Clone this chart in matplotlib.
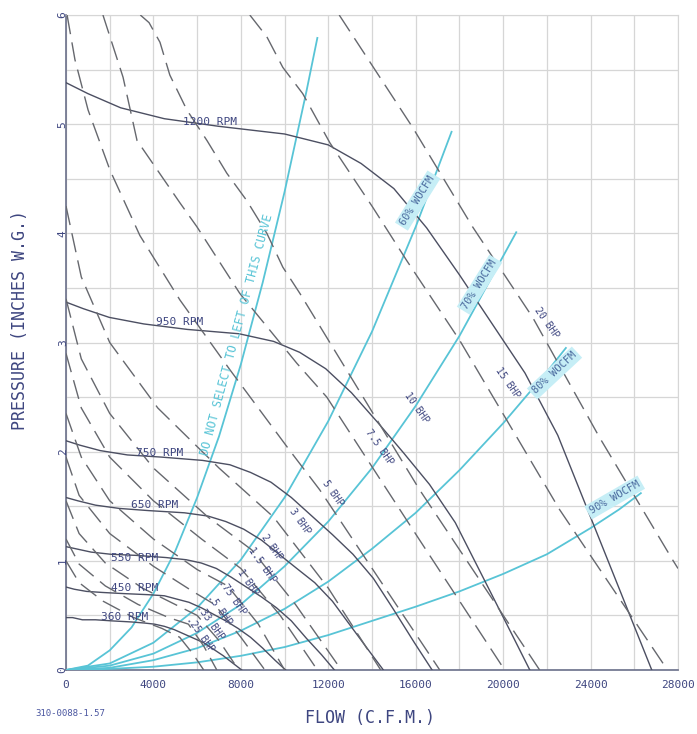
import matplotlib
matplotlib.use("Agg")
import matplotlib.pyplot as plt

# ---------------- data ----------------
rpm_labels = ["1200 RPM", "950 RPM", "750 RPM", "650 RPM", "550 RPM", "450 RPM", "360 RPM"]
rpm_q = [
    [0, 1000, 2500, 4500, 7000, 10000, 12000, 13500, 15000, 16500, 18000, 19500, 21000, 22500, 24000, 25500, 26800],
    [0, 790, 1980, 3560, 5540, 7920, 9500, 10690, 11880, 13060, 14250, 15440, 16630, 17810, 19000, 20190, 21220],
    [0, 625, 1560, 2810, 4380, 6250, 7500, 8440, 9380, 10310, 11250, 12190, 13130, 14060, 15000, 15940, 16750],
    [0, 540, 1350, 2440, 3790, 5420, 6500, 7310, 8130, 8940, 9750, 10560, 11380, 12190, 13000, 13810, 14520],
    [0, 460, 1150, 2060, 3210, 4580, 5500, 6190, 6880, 7560, 8250, 8940, 9630, 10310, 11000, 11690, 12280],
    [0, 375, 940, 1690, 2630, 3750, 4500, 5060, 5630, 6190, 6750, 7310, 7880, 8440, 9000, 9560, 10050],
    [0, 300, 750, 1350, 2100, 3000, 3600, 4050, 4500, 4950, 5400, 5850, 6300, 6750, 7200, 7650, 8040],
]
rpm_p = [
    [5.38, 5.28, 5.15, 5.05, 4.98, 4.91, 4.81, 4.64, 4.41, 4.05, 3.62, 3.17, 2.72, 2.15, 1.40, 0.65, 0],
    [3.37, 3.31, 3.23, 3.17, 3.12, 3.08, 3.01, 2.91, 2.76, 2.54, 2.27, 1.99, 1.70, 1.35, 0.88, 0.41, 0],
    [2.10, 2.06, 2.01, 1.97, 1.95, 1.92, 1.88, 1.81, 1.72, 1.58, 1.41, 1.24, 1.06, 0.84, 0.55, 0.25, 0],
    [1.58, 1.55, 1.51, 1.48, 1.46, 1.44, 1.41, 1.36, 1.29, 1.19, 1.06, 0.93, 0.80, 0.63, 0.41, 0.19, 0],
    [1.13, 1.11, 1.08, 1.06, 1.05, 1.03, 1.01, 0.98, 0.93, 0.85, 0.76, 0.67, 0.57, 0.45, 0.29, 0.14, 0],
    [0.76, 0.74, 0.72, 0.71, 0.70, 0.69, 0.68, 0.65, 0.62, 0.57, 0.51, 0.45, 0.38, 0.30, 0.20, 0.09, 0],
    [0.48, 0.48, 0.46, 0.46, 0.45, 0.44, 0.43, 0.42, 0.40, 0.37, 0.33, 0.29, 0.25, 0.19, 0.13, 0.06, 0],
]

bhp_labels = ["20 BHP", "15 BHP", "10 BHP", "7.5 BHP", "5 BHP", "3 BHP", "2 BHP",
              "1.5 BHP", "1 BHP", ".75 BHP", ".5 BHP", ".33 BHP", ".25 BHP"]
bhp_q = [
    [12500, 15860, 18600, 21350, 24410, 27750, 28000],
    [8410, 9190, 9920, 10830, 12070, 14030, 15590, 18010, 22580, 27520],
    [3400, 3800, 4300, 4750, 5530, 6450, 7360, 8270, 9190, 9920, 10700, 16180, 21670],
    [1690, 2610, 3250, 5210, 5990, 7950, 10560, 11930, 16180, 20070],
    [50, 410, 1010, 2010, 3380, 5210, 7500, 10240, 11610, 17100],
    [0, 700, 2000, 4200, 7000, 9500, 12000, 14400],
    [0, 700, 2000, 4000, 6500, 8500, 10500, 12600],
    [0, 700, 2000, 4000, 6200, 8000, 9800, 11500],
    [0, 700, 2000, 4000, 6000, 7400, 8800, 10000],
    [0, 600, 2000, 4000, 5800, 6800, 8000, 9100],
    [0, 600, 1800, 3500, 5000, 6000, 7000, 7900],
    [0, 600, 1800, 3300, 4700, 5600, 6300, 6900],
    [0, 600, 1700, 3100, 4400, 5200, 5800, 6300],
]
bhp_p = [
    [6.0, 4.97, 4.06, 3.23, 2.13, 1.01, 0.93],
    [6.0, 5.80, 5.52, 5.28, 4.83, 4.24, 3.75, 3.02, 1.47, 0],
    [6.0, 5.93, 5.75, 5.45, 5.13, 4.85, 4.55, 4.30, 4.00, 3.69, 3.45, 1.65, 0],
    [6.0, 5.43, 4.85, 4.28, 4.06, 3.45, 2.81, 2.50, 1.19, 0],
    [6.0, 5.59, 5.13, 4.58, 3.98, 3.39, 2.75, 2.01, 1.65, 0],
    [4.25, 3.60, 3.00, 2.40, 1.85, 1.40, 0.75, 0],
    [3.40, 2.85, 2.35, 1.85, 1.40, 1.10, 0.60, 0],
    [2.90, 2.40, 1.95, 1.55, 1.20, 0.93, 0.50, 0],
    [2.35, 1.95, 1.55, 1.20, 0.92, 0.77, 0.42, 0],
    [1.95, 1.60, 1.25, 0.95, 0.72, 0.60, 0.30, 0],
    [1.55, 1.25, 0.98, 0.75, 0.60, 0.50, 0.27, 0],
    [1.20, 0.97, 0.77, 0.60, 0.48, 0.42, 0.22, 0],
    [1.00, 0.80, 0.63, 0.48, 0.38, 0.30, 0.15, 0],
]

sys_labels = ["DO NOT SELECT TO LEFT OF THIS CURVE", "60% WOCFM", "70% WOCFM", "80% WOCFM", "90% WOCFM"]
sys_q = [
    [0, 1000, 2000, 3000, 4000, 5000, 6000, 7000, 8000, 9000, 10000, 11000, 11500],
    [0, 2000, 4000, 6000, 8000, 10000, 12000, 14000, 16000, 17640],
    [0, 2000, 4000, 6000, 8000, 10000, 12000, 14000, 16000, 18000, 20600],
    [0, 2000, 4000, 6000, 8000, 10000, 12000, 14000, 16000, 18000, 20000, 22000, 22870],
    [0, 2000, 4000, 6000, 8000, 10000, 12000, 14000, 16000, 18000, 20000, 22000, 24000, 25300, 26300],
]
sys_p = [
    [0, 0.04, 0.18, 0.39, 0.70, 1.09, 1.58, 2.14, 2.80, 3.55, 4.38, 5.30, 5.79],
    [0, 0.06, 0.25, 0.57, 1.01, 1.58, 2.28, 3.10, 4.06, 4.93],
    [0, 0.04, 0.15, 0.34, 0.60, 0.95, 1.36, 1.85, 2.42, 3.06, 4.01],
    [0, 0.02, 0.09, 0.20, 0.36, 0.56, 0.81, 1.11, 1.44, 1.83, 2.26, 2.73, 2.95],
    [0, 0.01, 0.03, 0.07, 0.13, 0.21, 0.32, 0.45, 0.58, 0.72, 0.88, 1.06, 1.30, 1.47, 1.62],
]

x_ticks = [0, 4000, 8000, 12000, 16000, 20000, 24000, 28000]
y_ticks = [0, 1, 2, 3, 4, 5, 6]

# ------------- annotation placement -------------
rpm_label_pos = [(6580, 5.02), (5210, 3.19), (4300, 1.99), (4070, 1.51), (3150, 1.03), (3150, 0.75), (2700, 0.49)]
bhp_label_pos = [(21990, 3.18), (20200, 2.63), (16040, 2.40), (14350, 2.04), (12200, 1.62), (10700, 1.36),
                 (9420, 1.12), (8960, 0.96), (8320, 0.80), (7590, 0.67), (7040, 0.55), (6580, 0.44), (6130, 0.33)]
sys_label_pos = [(7800, 3.07, 75), (16090, 4.30, 58), (18920, 3.53, 58), (22350, 2.72, 43), (25100, 1.58, 30)]

# ---------------- figure ----------------
TXT = "#3e4680"
RPMC = "#4c4f62"
DASHC = "#66686e"
CYAN = "#58c4d6"
GRID = "#d6d6d6"
FONT = "DejaVu Sans Mono"

fig = plt.figure(figsize=(6.97, 7.34), dpi=100)
ax = fig.add_axes([66 / 697, 64 / 734, 612 / 697, 655 / 734])
ax.set_xlim(0, 28000)
ax.set_ylim(0, 6)

ax.set_xticks(range(0, 28001, 2000))
ax.set_yticks([i * 0.5 for i in range(13)])
ax.grid(True, color=GRID, lw=0.9)
ax.tick_params(length=0, labelbottom=False, labelleft=False)
for s in ["top", "right"]:
    ax.spines[s].set_color(GRID)
for s in ["left", "bottom"]:
    ax.spines[s].set_color("#6a6f8a")
    ax.spines[s].set_linewidth(1.2)

for q, p in zip(sys_q, sys_p):
    ax.plot(q, p, color=CYAN, lw=1.3, zorder=3)
for q, p in zip(rpm_q, rpm_p):
    ax.plot(q, p, color=RPMC, lw=1.0, zorder=4)
for q, p in zip(bhp_q, bhp_p):
    ax.plot(q, p, color=DASHC, lw=1.0, dashes=(14, 6), zorder=4)

for lab, (x, y) in zip(rpm_labels, rpm_label_pos):
    ax.text(x, y, lab, color=TXT, fontsize=8, family=FONT, ha="center", va="center", zorder=6)
for lab, (x, y) in zip(bhp_labels, bhp_label_pos):
    ax.text(x, y, lab, color=TXT, fontsize=7, family=FONT, ha="center", va="center",
            rotation=-55, rotation_mode="anchor", zorder=6)
for i, (lab, (x, y, r)) in enumerate(zip(sys_labels, sys_label_pos)):
    if i == 0:
        ax.text(x, y, lab, color=CYAN, fontsize=8.5, family=FONT, ha="center", va="center",
                rotation=r, rotation_mode="anchor", zorder=6)
    else:
        ax.text(x, y, lab, color="#4a6a9e", fontsize=7.5, family=FONT, ha="center", va="center",
                rotation=r, rotation_mode="anchor", zorder=6,
                bbox=dict(boxstyle="square,pad=0.25", fc="#c6eef6", ec="none"))

for t in x_ticks:
    ax.text(t, -0.09, str(t), color=TXT, fontsize=8, family=FONT, ha="center", va="top",
            clip_on=False)
for t in y_ticks:
    ax.text(-150, t, str(t), color=TXT, fontsize=8, family=FONT, ha="center", va="center",
            rotation=90, clip_on=False)

fig.text(370 / 697, 1 - 718 / 734, "FLOW (C.F.M.)", color=TXT, fontsize=12, family=FONT,
         ha="center", va="center")
fig.text(20 / 697, 1 - 320 / 734, "PRESSURE (INCHES W.G.)", color=TXT, fontsize=12, family=FONT,
         ha="center", va="center", rotation=90)
fig.text(70 / 697, 1 - 714 / 734, "310-0088-1.57", color="#4a56a0", fontsize=6.5, family=FONT,
         ha="center", va="center")

fig.savefig("out.png", dpi=100)
